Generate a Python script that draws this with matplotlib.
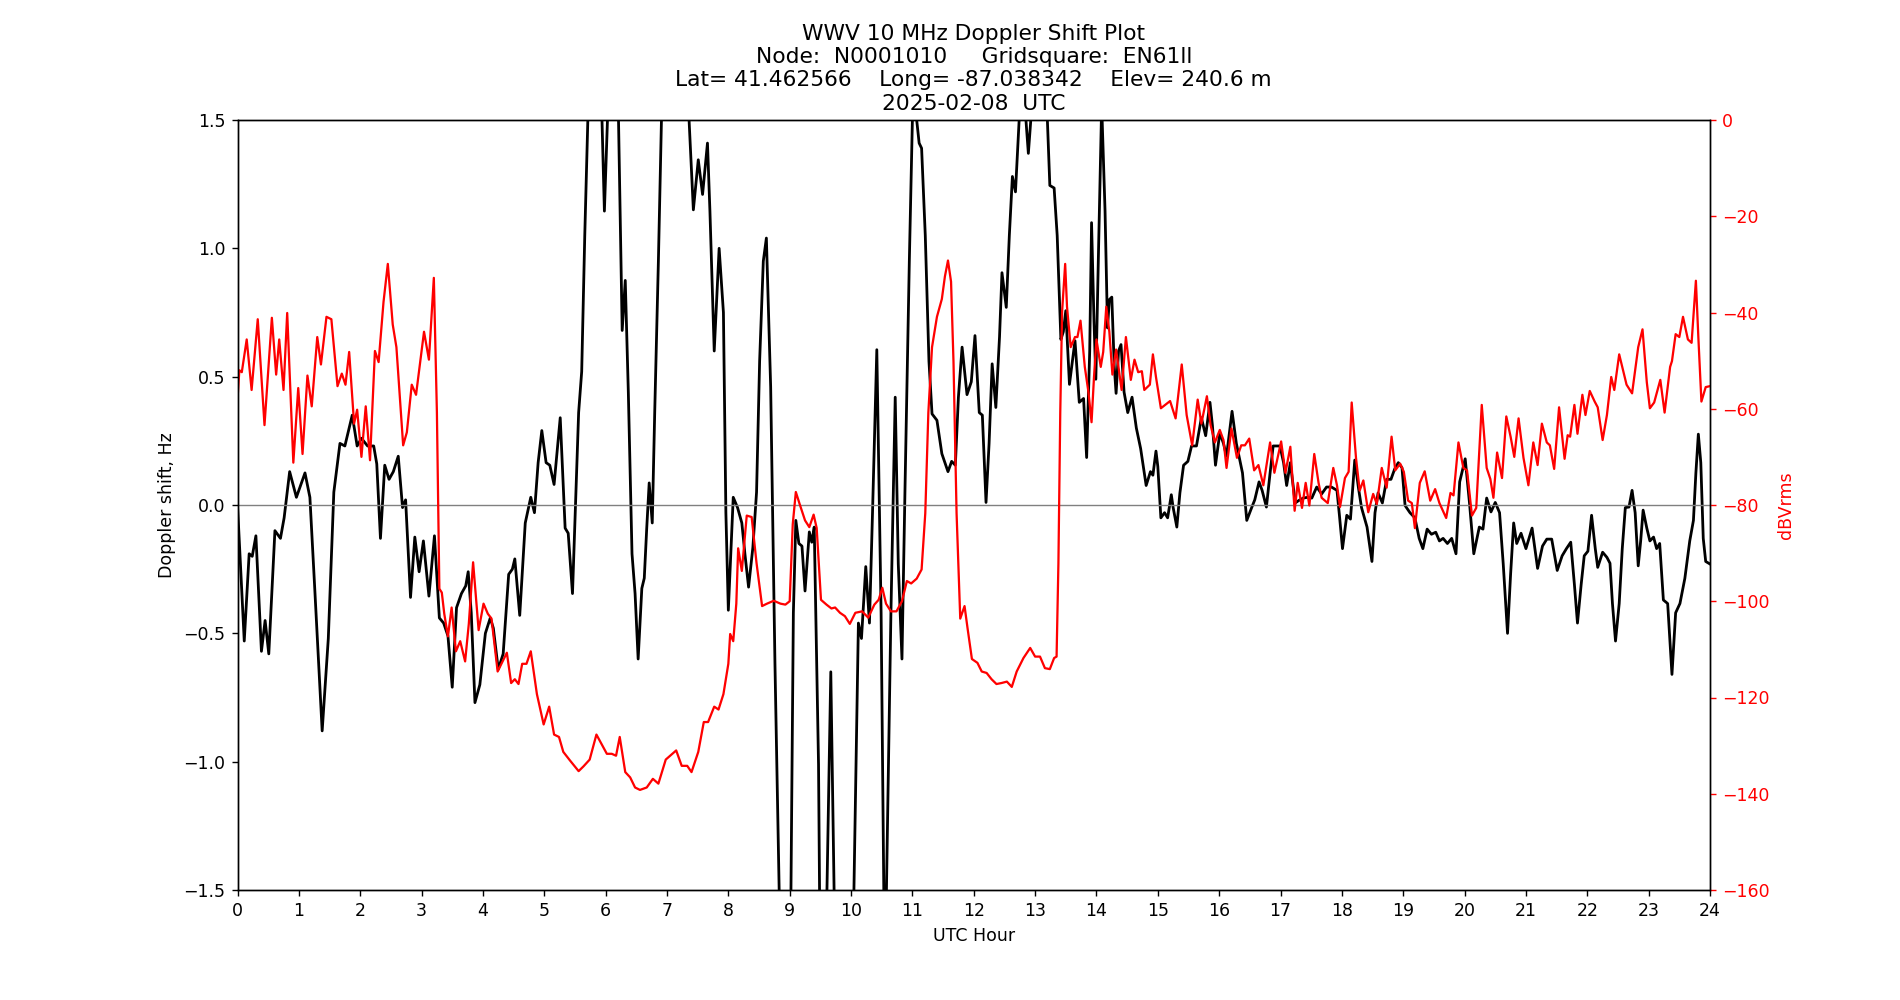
import numpy as np
import matplotlib.pyplot as plt

# WWV 10 MHz Doppler shift plot with received power on a second axis

# Doppler shift (Hz) vs UTC hour
doppler_hours = [
    0.00, 0.11, 0.19, 0.24, 0.30, 0.39, 0.45, 0.51, 0.61, 0.70, 0.76, 0.85, 0.96,
    1.10, 1.18, 1.26, 1.38, 1.48, 1.57, 1.67, 1.75, 1.87, 1.95, 2.02, 2.12, 2.22,
    2.27, 2.33, 2.40, 2.47, 2.54, 2.62, 2.69, 2.74, 2.82, 2.89, 2.96, 3.03, 3.12,
    3.21, 3.29, 3.36, 3.43, 3.50, 3.57, 3.65, 3.72, 3.76, 3.81, 3.87, 3.95, 4.04,
    4.12, 4.17, 4.25, 4.33, 4.42, 4.48, 4.52, 4.60, 4.69, 4.78, 4.84, 4.90, 4.96,
    5.03, 5.09, 5.16, 5.26, 5.34, 5.39, 5.46, 5.56, 5.61, 5.66, 5.71, 5.82, 5.94,
    5.98, 6.03, 6.12, 6.21, 6.27, 6.32, 6.37, 6.43, 6.48, 6.53, 6.59, 6.63, 6.67,
    6.71, 6.76, 6.80, 6.86, 6.91, 7.13, 7.36, 7.43, 7.51, 7.58, 7.66, 7.70, 7.77,
    7.85, 7.92, 7.96, 8.00, 8.08, 8.15, 8.22, 8.27, 8.33, 8.40, 8.46, 8.51, 8.57,
    8.62, 8.69, 8.76, 8.83, 8.92, 9.02, 9.06, 9.10, 9.15, 9.20, 9.25, 9.32, 9.36,
    9.40, 9.47, 9.49, 9.54, 9.60, 9.67, 9.73, 9.88, 10.04, 10.12, 10.17, 10.24,
    10.30, 10.35, 10.42, 10.49, 10.55, 10.65, 10.72, 10.77, 10.83, 10.88, 10.95,
    11.00, 11.04, 11.07, 11.11, 11.15, 11.21, 11.27, 11.32, 11.40, 11.48, 11.58,
    11.64, 11.70, 11.75, 11.81, 11.89, 11.96, 12.02, 12.09, 12.14, 12.20, 12.25,
    12.30, 12.36, 12.42, 12.46, 12.53, 12.58, 12.63, 12.68, 12.74, 12.79, 12.85,
    12.89, 12.93, 13.06, 13.20, 13.24, 13.31, 13.36, 13.42, 13.46, 13.50, 13.56,
    13.65, 13.72, 13.79, 13.84, 13.89, 13.92, 13.96, 13.99, 14.03, 14.085, 14.14,
    14.18, 14.21, 14.25, 14.29, 14.32, 14.36, 14.40, 14.45, 14.51, 14.58, 14.65,
    14.72, 14.81, 14.88, 14.92, 14.97, 15.00, 15.05, 15.11, 15.16, 15.22, 15.25,
    15.31, 15.36, 15.42, 15.49, 15.55, 15.63, 15.71, 15.78, 15.85, 15.89, 15.94,
    16.01, 16.07, 16.12, 16.21, 16.28, 16.38, 16.45, 16.53, 16.58, 16.65, 16.70,
    16.77, 16.83, 16.88, 16.99, 17.05, 17.10, 17.16, 17.24, 17.30, 17.37, 17.44,
    17.51, 17.59, 17.67, 17.75, 17.83, 17.92, 17.96, 18.01, 18.08, 18.14, 18.21,
    18.27, 18.32, 18.41, 18.49, 18.54, 18.59, 18.66, 18.73, 18.80, 18.86, 18.92,
    18.98, 19.03, 19.11, 19.19, 19.26, 19.32, 19.39, 19.46, 19.53, 19.59, 19.65,
    19.72, 19.79, 19.86, 19.92, 20.01, 20.08, 20.15, 20.24, 20.30, 20.36, 20.43,
    20.50, 20.57, 20.63, 20.70, 20.75, 20.80, 20.85, 20.92, 21.00, 21.10, 21.19,
    21.27, 21.34, 21.42, 21.51, 21.59, 21.66, 21.73, 21.79, 21.84, 21.90, 21.95,
    22.01, 22.07, 22.13, 22.17, 22.25, 22.32, 22.37, 22.41, 22.46, 22.52, 22.57,
    22.62, 22.68, 22.73, 22.78, 22.83, 22.87, 22.91, 22.97, 23.02, 23.08, 23.13,
    23.18, 23.24, 23.31, 23.38, 23.44, 23.51, 23.59, 23.67, 23.73, 23.77, 23.81,
    23.85, 23.89, 23.93, 24.00,
]
doppler_hz = [
    0.00, -0.53, -0.19, -0.20, -0.12, -0.57, -0.45, -0.58, -0.10, -0.13, -0.05, 0.13, 0.03,
    0.125, 0.03, -0.33, -0.88, -0.52, 0.05, 0.24, 0.23, 0.35, 0.23, 0.26, 0.23, 0.23,
    0.16, -0.13, 0.155, 0.10, 0.13, 0.19, -0.01, 0.02, -0.36, -0.125, -0.26, -0.14, -0.355,
    -0.12, -0.44, -0.46, -0.51, -0.71, -0.40, -0.345, -0.315, -0.26, -0.42, -0.77, -0.70, -0.50,
    -0.44, -0.48, -0.64, -0.58, -0.27, -0.25, -0.21, -0.43, -0.07, 0.03, -0.03, 0.165, 0.29,
    0.165, 0.155, 0.08, 0.34, -0.09, -0.11, -0.345, 0.36, 0.52, 1.05, 1.50, 2.60, 1.50,
    1.145, 1.50, 2.40, 1.50, 0.68, 0.875, 0.44, -0.19, -0.345, -0.60, -0.325, -0.285, -0.09,
    0.086, -0.07, 0.36, 0.95, 1.50, 3.00, 1.50, 1.15, 1.345, 1.21, 1.41, 1.145, 0.60,
    1.00, 0.75, -0.03, -0.41, 0.03, -0.01, -0.07, -0.19, -0.32, -0.165, 0.05, 0.56, 0.95,
    1.04, 0.46, -0.62, -1.52, -2.60, -1.52, -0.42, -0.06, -0.15, -0.16, -0.335, -0.105, -0.145,
    -0.086, -1.01, -1.60, -2.20, -1.60, -0.65, -1.60, -2.60, -1.60, -0.46, -0.52, -0.24,
    -0.46, -0.03, 0.605, -0.42, -1.90, -0.42, 0.42, -0.23, -0.60, 0.07, 0.95,
    1.50, 1.60, 1.50, 1.41, 1.39, 1.05, 0.56, 0.355, 0.33, 0.20, 0.13,
    0.17, 0.155, 0.42, 0.615, 0.43, 0.48, 0.66, 0.36, 0.35, 0.01, 0.24,
    0.55, 0.38, 0.655, 0.905, 0.77, 1.05, 1.28, 1.22, 1.50, 1.70, 1.50,
    1.37, 1.50, 2.20, 1.50, 1.245, 1.235, 1.05, 0.645, 0.675, 0.757, 0.47,
    0.64, 0.40, 0.415, 0.185, 0.60, 1.10, 0.715, 0.49, 0.95, 1.56, 1.145,
    0.69, 0.80, 0.81, 0.54, 0.435, 0.60, 0.625, 0.44, 0.36, 0.42, 0.30,
    0.22, 0.076, 0.13, 0.116, 0.21, 0.15, -0.05, -0.03, -0.05, 0.04, -0.01,
    -0.086, 0.047, 0.155, 0.17, 0.23, 0.23, 0.34, 0.27, 0.40, 0.31, 0.155,
    0.28, 0.24, 0.19, 0.365, 0.24, 0.125, -0.06, -0.01, 0.02, 0.09, 0.057,
    -0.008, 0.125, 0.23, 0.23, 0.165, 0.076, 0.165, 0.008, 0.018, 0.027, 0.03,
    0.027, 0.07, 0.043, 0.07, 0.07, 0.057, -0.04, -0.17, -0.04, -0.055, 0.175,
    0.067, -0.01, -0.086, -0.22, -0.03, 0.047, 0.008, 0.10, 0.10, 0.14, 0.165,
    0.145, -0.002, -0.03, -0.05, -0.13, -0.17, -0.094, -0.114, -0.106, -0.14, -0.13,
    -0.15, -0.13, -0.19, 0.09, 0.18, 0.008, -0.19, -0.086, -0.094, 0.027, -0.027,
    0.01, -0.03, -0.23, -0.50, -0.27, -0.07, -0.15, -0.11, -0.17, -0.09, -0.247,
    -0.16, -0.133, -0.133, -0.255, -0.198, -0.17, -0.145, -0.31, -0.46, -0.31, -0.198,
    -0.18, -0.04, -0.17, -0.243, -0.184, -0.204, -0.227, -0.384, -0.53, -0.384, -0.17,
    -0.01, -0.008, 0.057, -0.03, -0.237, -0.14, -0.02, -0.09, -0.14, -0.125, -0.17,
    -0.15, -0.37, -0.384, -0.66, -0.42, -0.384, -0.286, -0.14, -0.06, 0.125, 0.276,
    0.165, -0.13, -0.22, -0.23,
]

# Received signal level (dBVrms) vs UTC hour
power_hours = [
    0.00, 0.03, 0.07, 0.15, 0.23, 0.33, 0.44, 0.56, 0.63, 0.68, 0.75, 0.81, 0.91,
    0.99, 1.06, 1.14, 1.21, 1.30, 1.36, 1.45, 1.53, 1.63, 1.70, 1.76, 1.82, 1.90,
    1.95, 2.02, 2.09, 2.16, 2.24, 2.30, 2.38, 2.45, 2.53, 2.59, 2.70, 2.76, 2.84,
    2.91, 3.04, 3.12, 3.20, 3.25, 3.29, 3.33, 3.37, 3.43, 3.49, 3.56, 3.63, 3.71,
    3.77, 3.84, 3.93, 4.01, 4.08, 4.14, 4.24, 4.32, 4.39, 4.46, 4.52, 4.58, 4.64,
    4.71, 4.78, 4.88, 4.99, 5.08, 5.16, 5.24, 5.31, 5.42, 5.56, 5.64, 5.74, 5.85,
    5.94, 6.02, 6.10, 6.17, 6.23, 6.32, 6.40, 6.48, 6.56, 6.67, 6.77, 6.86, 6.98,
    7.15, 7.24, 7.33, 7.40, 7.51, 7.60, 7.67, 7.77, 7.84, 7.92, 8.00, 8.03, 8.08,
    8.13, 8.16, 8.22, 8.30, 8.38, 8.46, 8.55, 8.63, 8.74, 8.85, 8.93, 9.00, 9.05,
    9.10, 9.17, 9.25, 9.32, 9.39, 9.44, 9.51, 9.60, 9.68, 9.74, 9.82, 9.90, 9.98,
    10.07, 10.18, 10.28, 10.38, 10.45, 10.51, 10.57, 10.65, 10.74, 10.83, 10.91,
    10.98, 11.07, 11.15, 11.21, 11.26, 11.32, 11.40, 11.48, 11.53, 11.58, 11.63,
    11.67, 11.72, 11.78, 11.85, 11.90, 11.97, 12.06, 12.13, 12.21, 12.29, 12.37,
    12.45, 12.54, 12.62, 12.70, 12.81, 12.92, 13.00, 13.08, 13.16, 13.24, 13.31,
    13.35, 13.38, 13.41, 13.44, 13.49, 13.52, 13.58, 13.65, 13.69, 13.74, 13.81,
    13.87, 13.92, 13.96, 14.00, 14.07, 14.11, 14.16, 14.21, 14.26, 14.32, 14.41,
    14.48, 14.56, 14.62, 14.68, 14.74, 14.78, 14.87, 14.92, 14.97, 15.05, 15.12,
    15.20, 15.29, 15.39, 15.47, 15.56, 15.65, 15.71, 15.80, 15.86, 15.93, 16.01,
    16.07, 16.12, 16.20, 16.29, 16.36, 16.42, 16.49, 16.57, 16.64, 16.72, 16.83,
    16.90, 17.01, 17.08, 17.16, 17.23, 17.28, 17.35, 17.41, 17.47, 17.55, 17.62,
    17.67, 17.77, 17.86, 17.92, 17.97, 18.05, 18.11, 18.16, 18.23, 18.29, 18.35,
    18.43, 18.51, 18.57, 18.65, 18.73, 18.81, 18.87, 18.95, 19.01, 19.08, 19.14,
    19.19, 19.27, 19.35, 19.44, 19.52, 19.59, 19.70, 19.77, 19.82, 19.90, 19.98,
    20.04, 20.12, 20.19, 20.28, 20.36, 20.42, 20.47, 20.53, 20.61, 20.68, 20.75,
    20.81, 20.88, 20.96, 21.04, 21.12, 21.19, 21.26, 21.34, 21.39, 21.46, 21.54,
    21.63, 21.68, 21.72, 21.79, 21.84, 21.92, 21.97, 22.04, 22.12, 22.17, 22.25,
    22.32, 22.39, 22.44, 22.52, 22.59, 22.64, 22.73, 22.83, 22.90, 22.97, 23.02,
    23.09, 23.19, 23.26, 23.35, 23.38, 23.44, 23.50, 23.56, 23.64, 23.70, 23.77,
    23.81, 23.86, 23.93, 24.00,
]
power_db = [
    -58.0, -52.0, -52.4, -45.6, -56.1, -41.4, -63.4, -41.1, -52.9, -45.6, -56.1, -40.1, -71.2,
    -55.7, -69.4, -53.1, -59.5, -45.1, -50.8, -40.9, -41.4, -55.3, -52.7, -55.0, -48.2, -63.1,
    -60.2, -70.0, -59.5, -70.7, -48.0, -50.3, -37.8, -29.9, -42.5, -47.2, -67.6, -64.9, -55.0,
    -57.1, -44.0, -49.8, -32.8, -60.8, -97.4, -98.2, -102.6, -107.3, -101.3, -110.4, -108.3, -112.5,
    -104.7, -91.9, -106.0, -100.5, -102.6, -103.6, -114.6, -112.5, -110.7, -117.0, -116.2, -117.2, -113.0,
    -113.0, -110.4, -119.3, -125.6, -121.9, -127.7, -128.2, -131.3, -133.1, -135.3, -134.3, -132.9, -127.7,
    -129.8, -131.7, -131.7, -132.1, -128.2, -135.5, -136.6, -138.7, -139.2, -138.7, -136.9, -137.9, -132.9,
    -131.0, -134.2, -134.2, -135.5, -131.3, -125.1, -125.1, -121.9, -122.5, -119.3, -113.0, -106.8, -108.3,
    -100.5, -89.0, -93.7, -82.2, -82.5, -92.1, -101.0, -100.5, -99.9, -100.5, -100.7, -100.0, -84.0,
    -77.3, -80.1, -83.2, -84.6, -82.0, -84.8, -99.7, -100.7, -101.5, -101.3, -102.4, -103.1, -104.7,
    -102.4, -102.1, -103.4, -100.7, -99.7, -97.2, -100.5, -102.1, -102.1, -100.0, -95.8,
    -96.3, -95.3, -93.4, -81.7, -60.8, -47.2, -40.9, -37.2, -32.5, -29.2, -33.6,
    -50.3, -81.7, -103.6, -101.0, -105.7, -112.0, -112.8, -114.6, -114.9, -116.2, -117.2,
    -117.0, -116.7, -117.8, -114.6, -111.8, -109.7, -111.5, -111.5, -113.9, -114.1, -111.8,
    -111.5, -92.1, -60.8, -39.8, -29.9, -38.8, -47.2, -45.1, -45.1, -41.7, -51.3,
    -56.6, -62.8, -53.4, -45.6, -51.3, -48.2, -38.8, -44.0, -52.9, -47.7, -56.1,
    -45.1, -54.0, -49.8, -52.4, -52.2, -56.1, -55.0, -48.7, -53.4, -59.9, -59.2,
    -58.4, -62.0, -50.8, -61.3, -67.6, -58.1, -63.1, -57.4, -63.4, -67.0, -64.4,
    -66.5, -72.3, -64.1, -70.2, -67.6, -67.6, -66.2, -72.8, -71.7, -75.9, -67.0,
    -73.3, -66.8, -73.3, -67.9, -81.2, -75.4, -80.6, -75.4, -80.1, -69.4, -75.4,
    -78.5, -79.6, -72.3, -75.9, -80.4, -74.4, -73.1, -58.7, -70.2, -77.0, -74.9,
    -81.5, -77.7, -79.8, -72.3, -76.4, -65.8, -72.8, -71.4, -73.1, -79.1, -79.6,
    -84.8, -75.4, -73.0, -79.1, -76.7, -79.6, -82.7, -77.5, -78.0, -67.0, -72.3,
    -72.8, -82.2, -80.6, -59.2, -72.3, -74.6, -78.5, -69.1, -74.4, -61.6, -65.8,
    -70.0, -62.0, -70.2, -75.9, -67.0, -71.7, -63.1, -67.0, -67.6, -72.5, -59.7,
    -70.4, -65.5, -65.8, -59.2, -65.2, -57.1, -61.3, -56.3, -58.5, -59.7, -66.5,
    -61.3, -53.4, -56.1, -48.7, -52.4, -55.0, -56.8, -47.2, -43.5, -54.5, -59.9,
    -58.7, -54.0, -60.8, -51.3, -50.1, -44.5, -45.1, -40.9, -45.6, -46.3, -33.4,
    -45.1, -58.5, -55.5, -55.3,
]

hour_ticks = np.arange(0, 25, 1)

title = ('WWV 10 MHz Doppler Shift Plot\n'
         'Node:  N0001010     Gridsquare:  EN61ll\n'
         'Lat= 41.462566    Long= -87.038342    Elev= 240.6 m\n'
         '2025-02-08  UTC')

fig, ax1 = plt.subplots(figsize=(15.2, 8), dpi=125)

# Doppler shift on the left axis
ax1.plot(doppler_hours, doppler_hz, color='black', linewidth=1.6)
ax1.axhline(0, color='gray', linewidth=0.8)
ax1.set_xlim(0, 24)
ax1.set_ylim(-1.5, 1.5)
ax1.set_xticks(hour_ticks)
ax1.set_xlabel('UTC Hour')
ax1.set_ylabel('Doppler shift, Hz')
ax1.set_title(title, fontsize=12.5)

# Signal level on the right axis
ax2 = ax1.twinx()
ax2.plot(power_hours, power_db, color='red', linewidth=1.3)
ax2.set_ylim(-160, 0)
ax2.set_yticks(np.arange(-160, 1, 20))
ax2.set_ylabel('dBVrms', color='red')
ax2.tick_params(axis='y', colors='red')

plt.savefig('out.png', dpi=125)
